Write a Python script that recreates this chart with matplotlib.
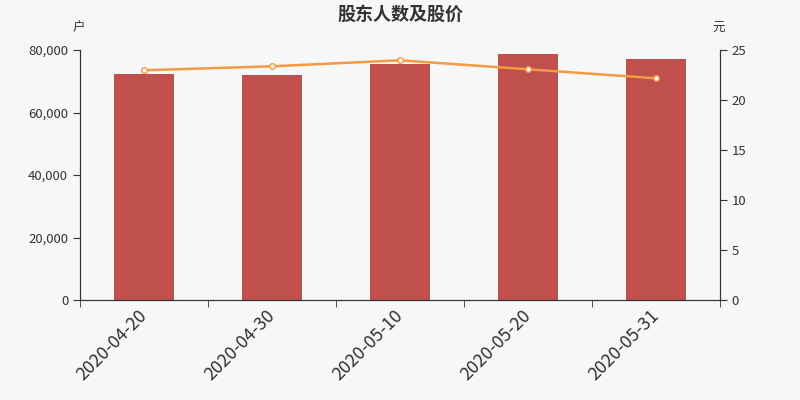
import matplotlib
matplotlib.use('Agg')
import matplotlib.pyplot as plt
import matplotlib.transforms as mtransforms
import numpy as np

plt.rcParams['font.family'] = ['Noto Sans CJK SC', 'DejaVu Sans']

# data
dates = ['2020-04-20', '2020-04-30', '2020-05-10', '2020-05-20', '2020-05-31']
holders = [72300, 71900, 75500, 78800, 77000]
price = [22.97, 23.37, 23.97, 23.07, 22.17]

bg = '#f7f7f7'
bar_color = '#c0504d'
line_color = '#f39a43'
axis_color = '#333333'

fig = plt.figure(figsize=(8, 4), dpi=100, facecolor=bg)
ax = fig.add_axes([0.1, 0.25, 0.8, 0.625], facecolor=bg)
ax2 = ax.twinx()

x = np.arange(len(dates))
ax.bar(x, holders, width=0.47, color=bar_color, zorder=2)
ax2.plot(x, price, color=line_color, lw=1.8, marker='o', ms=4,
         mfc='white', mec=line_color, mew=1, zorder=3)

ax.set_xlim(-0.5, len(dates) - 0.5)
ax.set_ylim(0, 80000)
ax2.set_ylim(0, 25)
ax.set_yticks([0, 20000, 40000, 60000, 80000])
ax.set_yticklabels(['0', '20,000', '40,000', '60,000', '80,000'])
ax2.set_yticks([0, 5, 10, 15, 20, 25])

ax.set_xticks(x)
ax.set_xticklabels(dates, rotation=45, ha='right', rotation_mode='anchor', fontsize=12.8)
ax.set_xticks(np.arange(-0.5, len(dates)), minor=True)
ax.tick_params(axis='x', which='major', length=0, pad=5, colors=axis_color)
ax.tick_params(axis='x', which='minor', length=5, color=axis_color)
ax.tick_params(axis='y', length=5, labelsize=9.5, colors=axis_color)
ax2.tick_params(axis='y', length=5, labelsize=9.5, colors=axis_color)

# nudge the rotated date labels a bit to the left
shift = mtransforms.ScaledTranslation(-6 / 100, 0, fig.dpi_scale_trans)
for lbl in ax.get_xticklabels():
    lbl.set_transform(lbl.get_transform() + shift)

for a in (ax, ax2):
    a.spines['top'].set_visible(False)
    for s in ('left', 'right', 'bottom'):
        a.spines[s].set_color(axis_color)

fig.text(0.5, 0.965, '股东人数及股价', ha='center', va='center',
         fontsize=13, fontweight='bold', color=axis_color)
fig.text(0.098, 0.93, '户', ha='center', va='center', fontsize=9, color=axis_color)
fig.text(0.898, 0.93, '元', ha='center', va='center', fontsize=9, color=axis_color)

fig.savefig('out.png', dpi=100, facecolor=bg)
